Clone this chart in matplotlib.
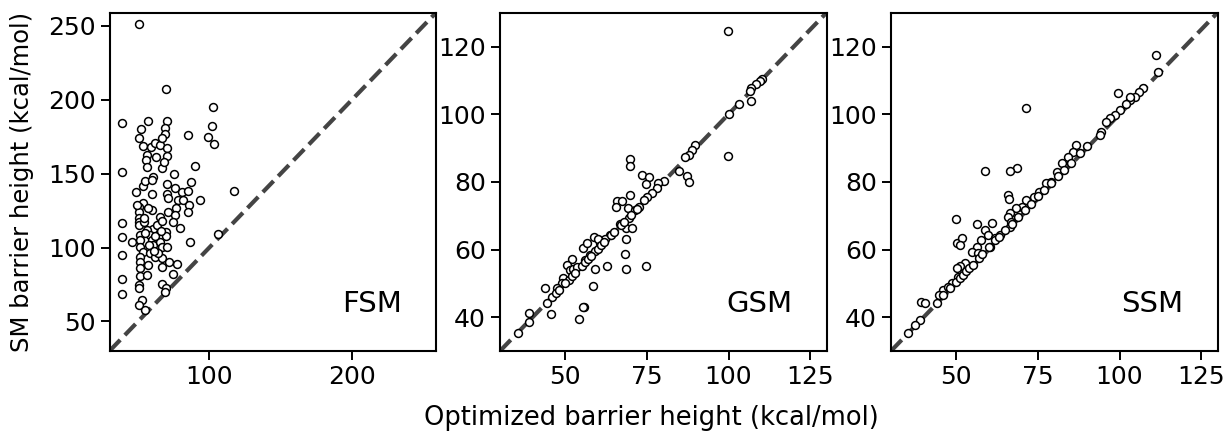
import numpy as np
import matplotlib
matplotlib.use("Agg")
import matplotlib.pyplot as plt

# FSM: optimized vs SM barrier height
fsm_x = [50.9, 69.4, 102.9, 38.5, 57.0, 70.1, 51.9, 69.0, 102.0, 69.0, 85.0, 99.3, 103.5,
         50.9, 53.3, 58.9, 62.0, 65.4, 66.6, 70.1, 70.1, 56.1, 62.6, 55.6, 90.0, 56.1, 66.5,
         39.0, 75.3, 60.3, 53.3, 70.1, 87.5, 48.6, 76.0, 59.6, 70.1, 71.3, 80.7, 85.3, 117.6,
         78.0, 81.4, 93.5, 53.3, 51.0, 51.0, 86.0, 85.3, 60.0, 71.3, 76.7, 76.0, 65.4, 74.3,
         50.4, 50.4, 50.4, 54.2, 39.0, 79.5, 60.7, 69.4, 69.4, 39.0, 45.6, 51.4, 51.4, 51.4,
         56.1, 58.4, 59.6, 60.7, 65.4, 66.6, 70.1, 86.5, 106.4, 53.7, 58.4, 62.0, 66.6, 39.0,
         51.4, 51.4, 51.4, 57.2, 66.6, 77.6, 51.4, 56.5, 74.8, 39.0, 50.9, 50.9, 66.6, 69.6,
         68.9, 39.0, 52.6, 50.9, 54.9, 55.0, 63.0, 67.0, 64.0, 58.0, 61.0, 49.0, 54.0, 57.0,
         62.0, 66.0, 72.0, 55.0, 60.0, 68.0]
fsm_y = [251.2, 207.4, 195.4, 184.2, 185.7, 185.9, 180.5, 181.0, 182.5, 177.0, 176.4, 175.0, 170.0,
         174.0, 168.8, 168.3, 170.6, 169.5, 174.0, 167.2, 162.0, 162.7, 161.0, 159.3, 155.3, 154.8, 153.9,
         151.0, 149.6, 148.0, 141.7, 142.9, 144.2, 137.9, 140.2, 136.1, 136.3, 133.8, 137.4, 138.5, 138.5,
         131.9, 131.9, 132.2, 130.0, 127.7, 124.3, 128.9, 123.9, 125.5, 124.3, 126.6, 122.0, 120.9, 117.5,
         120.0, 117.5, 115.3, 117.3, 116.5, 113.0, 112.4, 110.8, 107.9, 107.4, 104.0, 108.5, 105.2, 100.6,
         112.0, 108.5, 105.2, 101.8, 104.0, 100.6, 100.2, 104.0, 109.2, 97.2, 96.1, 93.9, 92.8, 95.0,
         93.9, 90.5, 86.0, 88.2, 86.7, 88.9, 80.8, 81.5, 82.1, 78.5, 74.7, 72.4, 75.4, 72.4,
         70.1, 68.6, 64.5, 61.1, 57.8, 110.0, 115.0, 118.0, 96.0, 102.0, 98.0, 129.0, 120.0, 127.0,
         108.0, 111.0, 90.0, 145.0, 146.0, 158.0]

# GSM
gsm_x = [99.7, 110.3, 109.5, 108.5, 107.0, 106.7, 106.9, 103.2, 100.2, 99.7, 89.6, 88.8, 87.8,
         86.7, 84.9, 87.2, 87.8, 80.3, 78.3, 78.1, 76.5, 75.0, 74.2, 69.7, 69.7, 73.4, 75.7,
         74.8, 69.7, 65.8, 67.3, 65.5, 69.1, 71.4, 72.7, 69.4, 66.8, 68.6, 70.4, 68.6, 63.7,
         62.2, 60.5, 58.8, 60.0, 55.4, 56.6, 57.6, 59.1, 56.1, 52.0, 50.4, 51.3, 52.5, 53.7,
         49.4, 48.9, 51.0, 59.1, 62.9, 68.6, 74.8, 68.4, 58.6, 47.4, 43.8, 45.8, 44.3, 55.6,
         54.3, 45.5, 39.0, 39.0, 35.5, 55.5, 47.0, 48.0, 50.0, 52.0, 53.0, 55.0, 56.0, 57.0,
         58.0, 60.0, 61.0, 62.0, 64.0, 65.0, 67.0, 68.0, 70.0, 72.0]
gsm_y = [124.7, 110.4, 109.8, 108.8, 107.6, 106.9, 103.9, 103.0, 100.1, 87.5, 90.9, 89.4, 87.9,
         87.2, 83.3, 81.7, 80.1, 80.3, 79.8, 78.1, 76.8, 75.6, 74.6, 86.7, 84.7, 82.0, 81.3,
         79.4, 76.1, 74.4, 74.2, 72.7, 72.2, 71.7, 72.7, 69.2, 67.5, 66.3, 66.3, 63.0, 64.3,
         63.0, 61.8, 63.8, 63.0, 60.4, 61.8, 58.4, 59.7, 56.9, 57.1, 55.4, 53.9, 54.1, 54.9,
         51.5, 50.2, 51.0, 54.1, 55.1, 54.1, 55.1, 58.7, 49.2, 48.5, 48.5, 46.1, 44.1, 43.1,
         39.4, 40.9, 41.1, 38.7, 35.3, 43.1, 47.2, 48.1, 50.2, 52.1, 53.2, 55.1, 56.2, 57.1,
         58.2, 60.1, 61.2, 62.1, 64.2, 65.1, 67.2, 68.1, 70.2, 72.1]

# SSM
ssm_x = [111.2, 111.7, 107.2, 106.1, 104.6, 103.1, 103.3, 99.5, 102.1, 100.0, 98.5, 97.0, 96.0,
         94.4, 93.9, 71.3, 86.8, 85.8, 84.2, 82.5, 80.7, 79.1, 77.6, 68.6, 66.4, 58.7, 75.4,
         73.7, 71.5, 70.0, 68.2, 66.4, 65.9, 65.9, 66.2, 66.9, 66.4, 60.8, 56.2, 58.7, 49.9,
         50.1, 51.6, 51.1, 59.8, 57.7, 56.2, 54.7, 56.7, 52.6, 51.1, 50.1, 50.6, 61.8, 63.3,
         60.3, 46.0, 44.8, 44.0, 39.1, 40.4, 38.9, 37.3, 48.6, 47.5, 35.3, 46.0, 48.0, 50.0,
         51.0, 52.0, 53.0, 54.0, 55.0, 57.0, 58.0, 60.0, 62.0, 63.0, 65.0, 67.0, 69.0, 71.0,
         73.0, 75.0, 77.0, 79.0, 81.0, 83.0, 85.0, 88.0, 90.0]
ssm_y = [117.5, 112.6, 107.6, 106.7, 105.2, 104.2, 105.2, 106.2, 103.0, 101.2, 99.8, 98.8, 97.8,
         94.8, 93.8, 101.7, 90.9, 88.9, 87.4, 85.5, 83.0, 80.1, 79.8, 84.2, 83.3, 83.2, 77.1,
         75.6, 74.6, 72.7, 72.2, 70.7, 69.7, 76.1, 74.8, 68.2, 66.7, 67.9, 67.5, 65.8, 68.9,
         61.8, 63.3, 61.4, 64.3, 62.8, 60.8, 59.4, 58.9, 55.9, 55.0, 54.4, 52.0, 63.3, 64.3,
         60.8, 48.0, 46.6, 44.1, 44.6, 44.3, 39.2, 37.7, 50.0, 49.0, 35.2, 46.5, 48.5, 50.5,
         51.5, 52.6, 53.5, 54.6, 55.5, 57.6, 58.7, 60.6, 62.7, 63.6, 65.7, 67.5, 69.6, 71.7,
         73.5, 75.8, 77.6, 79.6, 81.7, 83.4, 85.6, 88.5, 90.5]

names = ["FSM", "GSM", "SSM"]
lims = [(30, 259), (30, 130), (30, 130)]
xticks = [[100, 200], [50, 75, 100, 125], [50, 75, 100, 125]]
yticks = [[50, 100, 150, 200, 250], [40, 60, 80, 100, 120], [40, 60, 80, 100, 120]]


def panel(ax, x, y, name, lim, xt, yt):
    ax.plot(lim, lim, "--", color="#444444", lw=3, zorder=1)
    ax.scatter(x, y, s=32, facecolor="white", edgecolor="black", linewidths=1.1, zorder=2)
    ax.set_xlim(lim)
    ax.set_ylim(lim)
    ax.set_xticks(xt)
    ax.set_yticks(yt)
    ax.tick_params(labelsize=18, length=6.5, width=1.4)
    for s in ax.spines.values():
        s.set_linewidth(1.5)
    ax.text(0.895, 0.115, name, transform=ax.transAxes, ha="right", va="baseline", fontsize=21)


def main():
    fig = plt.figure(figsize=(12.25, 4.34), dpi=100)
    lefts = [109.5, 500, 891]
    axes = [fig.add_axes([l / 1225, 1 - 351 / 434, 326.5 / 1225, 338.3 / 434]) for l in lefts]
    data = [(fsm_x, fsm_y), (gsm_x, gsm_y), (ssm_x, ssm_y)]
    for i, ax in enumerate(axes):
        panel(ax, data[i][0], data[i][1], names[i], lims[i], xticks[i], yticks[i])
    fig.text(22 / 1225, 1 - 182 / 434, "SM barrier height (kcal/mol)",
             rotation=90, ha="center", va="center", fontsize=17.5)
    fig.text(651 / 1225, 1 - 418 / 434, "Optimized barrier height (kcal/mol)",
             ha="center", va="center", fontsize=18.5)
    fig.savefig("out.png", dpi=100)


if __name__ == "__main__":
    main()
